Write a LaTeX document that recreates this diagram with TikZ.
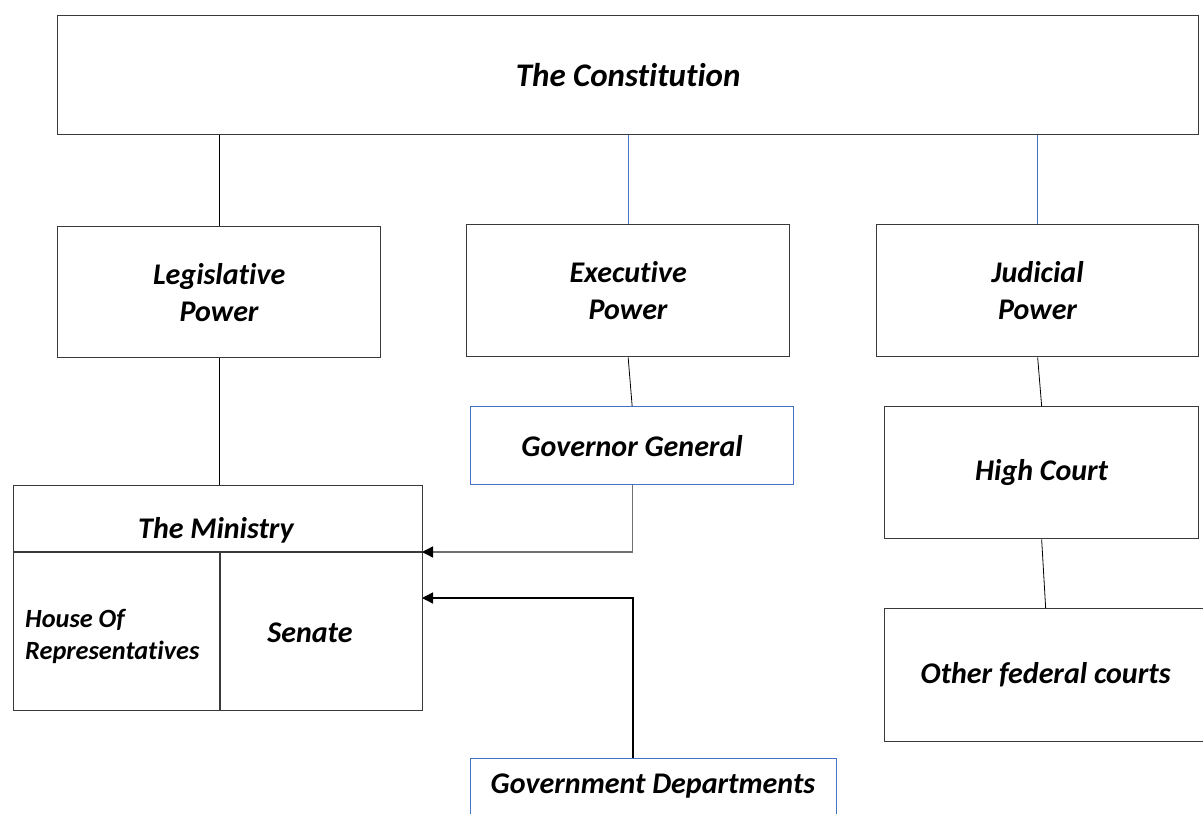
\documentclass[tikz,border=0pt]{standalone}
\usepackage{fontspec}
\setmainfont{Carlito}[Ligatures=NoCommon]
\usetikzlibrary{arrows.meta,calc}
\definecolor{boxgray}{HTML}{3A3A3A}
\definecolor{offblue}{HTML}{4472C4}
\definecolor{arrgray}{HTML}{707070}
\tikzset{
  box/.style={draw=boxgray, line width=1.3pt, anchor=north west, inner sep=0pt, align=center,
    font=\fontsize{30}{37}\selectfont\bfseries\itshape},
  bluebox/.style={box, draw=offblue},
  conn/.style={draw=black, line width=0.9pt},
  bconn/.style={draw=offblue, line width=0.8pt},
  arr/.style={line width=1.3pt, -{Triangle[length=11pt,width=11pt,color=black]}},
  lbl/.style={inner sep=0pt, font=\fontsize{30}{37}\selectfont\bfseries\itshape, align=center},
}
\begin{document}
\begin{tikzpicture}[x=1pt,y=-1pt]
\useasboundingbox (0,0) rectangle (1203,814);
\fill[white] (0,0) rectangle (1203,814);
% top
\node[box, minimum width=1141pt, minimum height=119pt, font=\fontsize{33}{40}\selectfont\bfseries\itshape] (const) at (57,15) {The Constitution};
% powers
\node[box, minimum width=323pt, minimum height=131pt] (leg) at (57,226) {Legislative\\Power};
\node[box, minimum width=323pt, minimum height=132pt] (exec) at (466,224) {Executive\\Power};
\node[box, minimum width=322pt, minimum height=132pt] (jud) at (876,224) {Judicial\\Power};
% executive branch
\node[bluebox, minimum width=323pt, minimum height=78pt] (gg) at (470,406) {Governor General};
\node[bluebox, minimum width=366pt, minimum height=80pt] (gd) at (470,758) {};
\node[lbl] (gdt) at (653,786) {Government Departments};
% judicial branch
\node[box, minimum width=314pt, minimum height=132pt] (hc) at (884,406) {High Court};
\node[box, minimum width=322pt, minimum height=133pt] (ofc) at (884,608) {Other federal courts};
% ministry
\node[box, minimum width=409pt, minimum height=225pt] (min) at (13,485) {};
\coordinate (mdivW) at (13,552);
\coordinate (mdivE) at (422,552);
\coordinate (mvT) at (220,552);
\coordinate (mvB) at (220,710);
\coordinate (mgd) at (422,598);
\draw[boxgray, line width=1.3pt] (mdivW) -- (mdivE);
\draw[boxgray, line width=1.1pt] (mvT) -- (mvB);
\node[lbl] (mint) at (216,530) {The Ministry};
\node[lbl, font=\fontsize{26.3}{32}\selectfont\bfseries\itshape, align=left, anchor=west] (hor) at (25,636) {House Of\\Representatives};
\node[lbl] (sen) at (310,633) {Senate};
% connectors
\draw[conn] (leg.north |- const.south) -- (leg.north);
\draw[bconn] (exec.north |- const.south) -- (exec.north);
\draw[bconn] (jud.north |- const.south) -- (jud.north);
\draw[conn] (leg.south) -- (leg.south |- min.north);
\draw[conn, line width=0.8pt] (exec.south) -- (gg.north);
\draw[conn, line width=0.8pt] (jud.south) -- (hc.north);
\draw[conn, line width=0.8pt] (hc.south) -- (ofc.north);
\draw[arr, draw=arrgray] (gg.south) |- (mdivE);
\draw[arr] ([xshift=163pt]gd.north west) |- (mgd);
\end{tikzpicture}
\end{document}
